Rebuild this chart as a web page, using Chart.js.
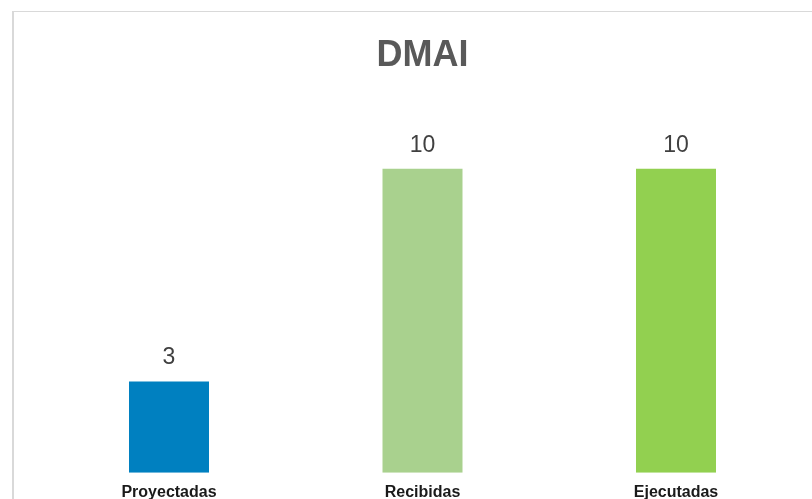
<!DOCTYPE html>
<html>
<head>
<meta charset="utf-8">
<script src="https://cdn.jsdelivr.net/npm/chart.js@4.4.0/dist/chart.umd.min.js"></script>
<style>
  html, body { margin: 0; padding: 0; background: #ffffff; }
  #wrap { position: relative; width: 812px; height: 499px; }
</style>
</head>
<body>
<div id="wrap"><canvas id="c" width="812" height="499"></canvas></div>
<script>
const chartTitle = 'DMAI';
const categories = ['Proyectadas', 'Recibidas', 'Ejecutadas'];
const values = [3, 10, 10];
const barColors = ['#0080C0', '#A9D18E', '#92D050'];
const yMin = 0;
const yMax = 12;

const frame = {
  id: 'frame',
  beforeDraw(chart) {
    const ctx = chart.ctx;
    ctx.save();
    ctx.fillStyle = '#ffffff';
    ctx.fillRect(0, 0, chart.width, chart.height);
    ctx.fillStyle = '#d9d9d9';
    ctx.fillRect(12, 11, 2, chart.height - 11);
    ctx.fillRect(12, 11, chart.width - 12, 1);
    ctx.restore();
  }
};

const valueLabels = {
  id: 'valueLabels',
  afterDatasetsDraw(chart) {
    const ctx = chart.ctx;
    const meta = chart.getDatasetMeta(0);
    ctx.save();
    ctx.font = '23px "Liberation Sans", Arial, sans-serif';
    ctx.fillStyle = '#404040';
    ctx.textAlign = 'center';
    ctx.textBaseline = 'middle';
    meta.data.forEach((bar, i) => {
      ctx.fillText(String(values[i]), bar.x, bar.y - 23.5);
    });
    ctx.restore();
  }
};

new Chart(document.getElementById('c'), {
  type: 'bar',
  data: {
    labels: categories,
    datasets: [{
      data: values,
      backgroundColor: barColors,
      borderWidth: 0,
      categoryPercentage: 1,
      barPercentage: 0.3156
    }]
  },
  options: {
    responsive: false,
    animation: false,
    devicePixelRatio: 1,
    layout: { padding: { left: 42.25, right: 9.25, top: 0, bottom: 0 } },
    plugins: {
      legend: { display: false },
      tooltip: { enabled: false },
      title: {
        display: true,
        text: chartTitle,
        color: '#595959',
        font: { family: '"Liberation Sans", Arial, sans-serif', size: 36, weight: 'bold', lineHeight: 1.2 },
        padding: { top: 34.4, bottom: 30.3 }
      }
    },
    scales: {
      x: {
        grid: { display: false, drawTicks: false },
        border: { display: false },
        afterFit(scale) { scale.height = 26.3; },
        ticks: {
          color: '#1a1a1a',
          padding: 12.3,
          font: { family: '"Liberation Sans", Arial, sans-serif', size: 16, weight: 'bold', lineHeight: 1.0 }
        }
      },
      y: {
        display: false,
        min: yMin,
        max: yMax
      }
    }
  },
  plugins: [frame, valueLabels]
});
</script>
</body>
</html>
